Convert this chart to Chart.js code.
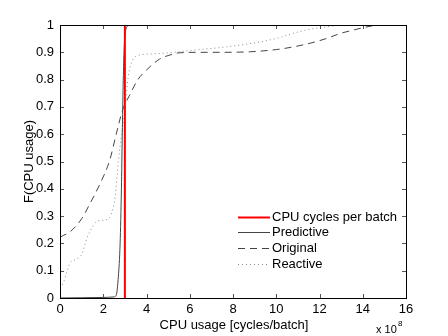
<!DOCTYPE html>
<html><head><meta charset="utf-8">
<script src="https://cdn.jsdelivr.net/npm/chart.js@4/dist/chart.umd.min.js"></script>
<style>html,body{margin:0;padding:0;background:#fff}#wrap{width:448px;height:336px}</style>
</head><body><div id="wrap"><canvas id="c" width="448" height="336"></canvas></div>
<script>
const xTicks = [0,2,4,6,8,10,12,14,16];
const yTicks = [0,0.1,0.2,0.3,0.4,0.5,0.6,0.7,0.8,0.9,1];
const seriesNames = ['CPU cycles per batch','Predictive','Original','Reactive'];

const batchX = [3.0, 3.0];
const batchY = [0, 1];

const predX = [0, 1, 2, 2.5, 2.6, 2.7, 2.78, 2.84, 2.88, 2.92, 2.96, 3.0, 3.05, 3.1, 3.2, 3.4, 4, 16];
const predY = [0, 0.001, 0.002, 0.004, 0.01, 0.08, 0.2, 0.4, 0.6, 0.78, 0.9, 0.96, 0.985, 0.995, 0.998, 1, 1, 1];

const origX = [0, 0.5, 1.0, 1.4, 1.8, 2.3, 2.6, 2.9, 3.2, 3.6, 4.0, 4.6, 5.0, 5.5, 6.5, 7.5, 8.8, 10, 10.8, 11.6, 12.3, 13, 13.6, 14, 14.7, 16];
const origY = [0.223, 0.245, 0.29, 0.348, 0.41, 0.505, 0.6, 0.69, 0.74, 0.8, 0.835, 0.875, 0.888, 0.898, 0.9, 0.9, 0.902, 0.91, 0.92, 0.934, 0.95, 0.97, 0.982, 0.99, 0.999, 1];

const reacX = [0, 0.15, 0.3, 0.46, 0.7, 1.0, 1.25, 1.5, 1.7, 2.0, 2.3, 2.45, 2.55, 2.7, 2.85, 3.0, 3.15, 3.3, 3.5, 4.2, 5.0, 6.2, 7.7, 9.25, 10.2, 10.8, 11.6, 12.0, 12.5, 13, 16];
const reacY = [0.037, 0.055, 0.09, 0.128, 0.14, 0.16, 0.22, 0.26, 0.28, 0.285, 0.295, 0.33, 0.37, 0.5, 0.6, 0.69, 0.81, 0.86, 0.885, 0.894, 0.898, 0.908, 0.92, 0.938, 0.955, 0.97, 0.985, 0.99, 0.995, 1, 1];

const pts = (xs, ys) => xs.map((x, i) => ({x, y: ys[i]}));
const FONT = '"Liberation Sans", Arial, sans-serif';

const boxPlugin = {
  id: 'box',
  afterDatasetsDraw(chart) {
    const ctx = chart.ctx, a = chart.chartArea;
    const xs = chart.scales.x, ys = chart.scales.y;
    ctx.save();
    ctx.strokeStyle = '#555'; ctx.lineWidth = 1;
    const L = 4;
    xTicks.forEach(v => {
      const px = Math.round(xs.getPixelForValue(v)) + 0.5;
      ctx.beginPath(); ctx.moveTo(px, a.bottom); ctx.lineTo(px, a.bottom - L);
      ctx.moveTo(px, a.top); ctx.lineTo(px, a.top + L); ctx.stroke();
    });
    yTicks.forEach(v => {
      const py = Math.round(ys.getPixelForValue(v)) + 0.5;
      ctx.beginPath(); ctx.moveTo(a.left, py); ctx.lineTo(a.left + L, py);
      ctx.moveTo(a.right, py); ctx.lineTo(a.right - L, py); ctx.stroke();
    });
    ctx.strokeStyle = '#000'; ctx.lineWidth = 1;
    ctx.strokeRect(Math.round(a.left) + 0.5, Math.round(a.top) + 0.5, Math.round(a.right - a.left), Math.round(a.bottom - a.top));
    // legend
    const ds = chart.data.datasets;
    const lx0 = 238, lx1 = 270, tx = 272;
    const y0 = 216.5;
    ctx.font = '13px ' + FONT; ctx.fillStyle = '#000'; ctx.textBaseline = 'middle'; ctx.textAlign = 'left';
    ds.forEach((d, i) => {
      const yy = Math.round(y0 + i * 15.8) + 0.5;
      ctx.save();
      ctx.strokeStyle = d.borderColor; ctx.lineWidth = d.borderWidth;
      ctx.setLineDash(d.borderDash || []);
      ctx.beginPath(); ctx.moveTo(lx0, yy); ctx.lineTo(lx1, yy); ctx.stroke();
      ctx.restore();
      ctx.fillText(d.label, tx, yy);
    });
    // axis titles
    ctx.font = '13px ' + FONT;
    ctx.textAlign = 'center'; ctx.textBaseline = 'middle';
    ctx.fillText('CPU usage [cycles/batch]', (a.left + a.right) / 2 + 1, 325);
    ctx.save();
    ctx.translate(29, (a.top + a.bottom) / 2);
    ctx.rotate(-Math.PI / 2);
    ctx.fillText('F(CPU usage)', 0, 0);
    ctx.restore();
    ctx.textAlign = 'left'; ctx.textBaseline = 'alphabetic';
    ctx.font = '11px ' + FONT;
    ctx.fillText('x 10', 376, 333);
    ctx.font = '8px ' + FONT;
    ctx.fillText('8', 398, 326);
    ctx.restore();
  }
};

new Chart(document.getElementById('c'), {
  type: 'line',
  data: {
    datasets: [
      {label: seriesNames[0], data: pts(batchX, batchY), borderColor: '#ff0000', borderWidth: 2, pointRadius: 0, order: 0},
      {label: seriesNames[1], data: pts(predX, predY), borderColor: '#444444', borderWidth: 1, pointRadius: 0, order: 1},
      {label: seriesNames[2], data: pts(origX, origY), borderColor: '#444444', borderWidth: 1, borderDash: [7, 5], pointRadius: 0, order: 2},
      {label: seriesNames[3], data: pts(reacX, reacY), borderColor: '#8a8a8a', borderWidth: 1, borderDash: [1, 3], pointRadius: 0, order: 3}
    ]
  },
  options: {
    responsive: false, animation: false, devicePixelRatio: 1,
    layout: {padding: {left: 0, top: 25, right: 42, bottom: 0}},
    plugins: {legend: {display: false}, tooltip: {enabled: false}},
    elements: {line: {tension: 0.3, cubicInterpolationMode: 'monotone'}},
    scales: {
      x: {
        type: 'linear', min: 0, max: 16,
        afterFit(s) { s.height = 38; },
        afterBuildTicks(s) { s.ticks = xTicks.map(v => ({value: v})); },
        grid: {display: false, drawTicks: false},
        border: {display: false},
        ticks: {color: '#000', font: {family: FONT, size: 13}, padding: 4, maxRotation: 0, autoSkip: false, callback: v => String(v)}
      },
      y: {
        type: 'linear', min: 0, max: 1,
        afterFit(s) { s.width = 60; },
        afterBuildTicks(s) { s.ticks = yTicks.map(v => ({value: v})); },
        grid: {display: false, drawTicks: false},
        border: {display: false},
        ticks: {color: '#000', font: {family: FONT, size: 13}, padding: 6, autoSkip: false, callback: v => String(v)}
      }
    }
  },
  plugins: [boxPlugin]
});
</script></body></html>
